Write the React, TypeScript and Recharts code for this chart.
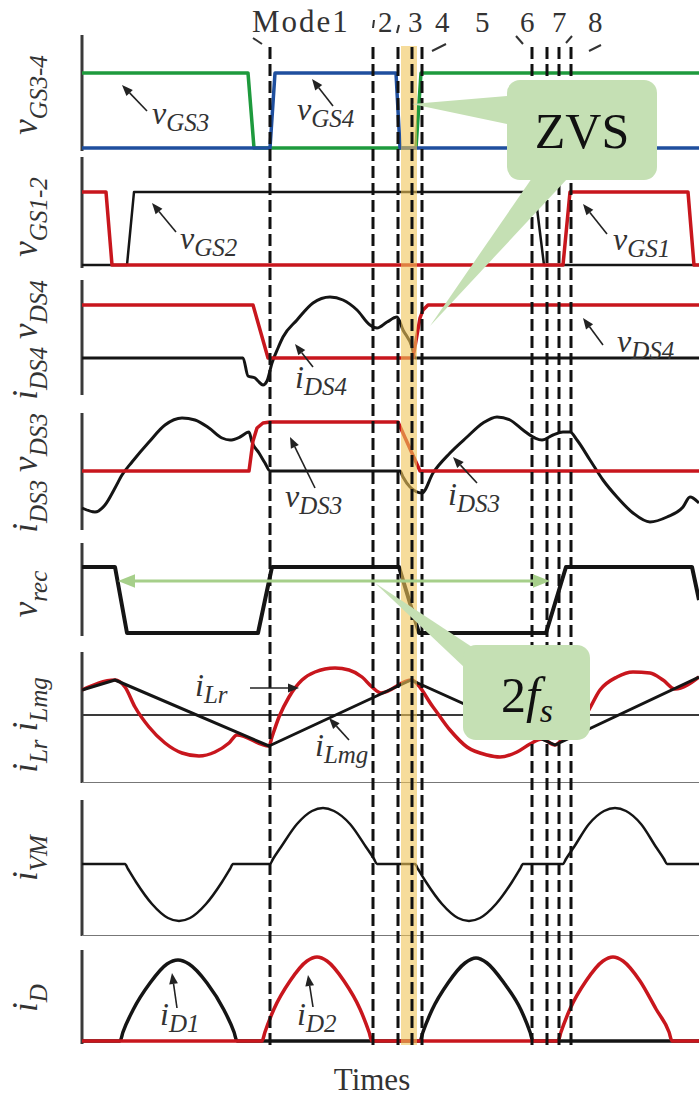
import React from 'react';
import { LineChart, Line, XAxis, YAxis, ReferenceLine, ReferenceArea } from 'recharts';

type Pt = { t: number; v: number };
const pts = (a: number[][]): Pt[] => a.map(([t, v]) => ({ t, v }));

// time runs 0..617 (arbitrary units), amplitudes are per-panel arbitrary units
const modeTimes = [188, 291, 316, 330, 340, 450, 465, 477, 489];
const modeLabels = ['Mode1', '2', '3', '4', '5', '6', '7', '8'];
const zvsWindow = [319, 335];

const vGS3 = pts([[0, 75], [166, 75], [172, 0], [334, 0], [339, 75], [617, 75]]);
const vGS4 = pts([[0, 0], [188, 0], [193, 75], [314, 75], [318, 0], [617, 0]]);
const vGS1 = pts([[0, 73], [24, 73], [30, 0], [481, 0], [488, 73], [606, 73], [612, 0], [617, 0]]);
const vGS2 = pts([[0, 0], [45, 0], [52, 73], [453, 73], [462, 0], [617, 0]]);
const vDS4 = pts([[0, 53], [171, 53], [186, 0], [331, 0], [338, 40], [341, 48], [346, 53], [617, 53]]);
const iDS4 = pts([
  [0, 0], [161, 0], [166, -18], [173, -20], [176, -23], [181, -27], [185, -23], [190, -5], [196, 10],
  [201, 21], [215, 38], [231, 55], [248, 61], [261, 58], [275, 48], [288, 33], [295, 30], [305, 36],
  [315, 41], [321, 28], [330, 11], [333, 0], [617, 0],
]);
const vDS3 = pts([[0, 0], [167, 0], [171, 30], [175, 43], [181, 48], [188, 49], [316, 49], [338, 0], [617, 0]]);
const iDS3 = pts([
  [0, -37], [13, -41], [23, -34], [33, -17], [40, -4], [50, 9], [67, 29], [83, 46], [100, 53], [113, 51],
  [127, 43], [140, 33], [148, 31], [158, 34], [167, 39], [170, 29], [177, 18], [183, 8], [188, 0],
  [318, 0], [321, -6], [328, -16], [340, -22], [351, -2], [368, 18], [385, 34], [401, 48], [415, 54],
  [428, 51], [441, 41], [453, 33], [460, 31], [471, 36], [481, 39], [488, 39], [495, 31], [508, 11],
  [521, -9], [535, -26], [551, -42], [568, -51], [585, -46], [601, -36], [608, -26], [617, -32],
]);
const vRec = pts([[0, 66], [33, 66], [45, 0], [176, 0], [190, 66], [317, 66], [337, 0], [464, 0], [484, 66], [610, 66], [617, 33]]);
const iLmg = pts([[0, 25], [33, 35], [187, -31], [329, 35], [473, -30], [617, 38]]);
const iLr = pts([
  [0, 25], [33, 35], [43, 28], [53, 8], [67, -12], [83, -28], [100, -38], [117, -41], [133, -37], [147, -28],
  [155, -20], [187, -31], [190, -22], [197, -2], [207, 18], [220, 35], [233, 43], [253, 47], [267, 45],
  [280, 38], [290, 28], [299, 22], [329, 35], [351, 8], [368, -15], [385, -32], [405, -40], [418, -42],
  [435, -37], [448, -29], [460, -24], [473, -30], [485, -18], [505, 2], [518, 25], [535, 38], [551, 43],
  [568, 42], [581, 35], [593, 26], [617, 38],
]);
const iVM = pts([
  [0, 0], [43, 0], [46, -5], [54, -18], [70, -40], [86, -54], [97, -57], [108, -54], [124, -40], [140, -18],
  [148, -5], [151, 0], [188, 0], [191, 5], [199, 17], [215, 40], [230, 53], [241, 56], [252, 53], [268, 40],
  [284, 17], [292, 5], [295, 0], [333, 0], [336, -5], [344, -18], [360, -40], [376, -54], [387, -57],
  [398, -54], [414, -40], [430, -18], [438, -5], [441, 0], [481, 0], [484, 5], [492, 17], [507, 40],
  [522, 53], [533, 56], [544, 53], [559, 40], [574, 17], [582, 5], [585, 0], [617, 0],
]);
const iD1 = pts([
  [0, 0], [38, 0], [41, 9], [51, 31], [68, 58], [85, 77], [96, 81], [107, 77], [125, 58], [142, 31],
  [152, 9], [155, 0], [338, 0], [341, 9], [350, 31], [366, 58], [383, 78], [394, 83], [405, 78],
  [422, 58], [439, 31], [448, 9], [451, 0], [617, 0],
]);
const iD2 = pts([
  [0, 0], [180, 0], [183, 9], [192, 32], [208, 60], [225, 80], [235, 84], [245, 80], [262, 60], [278, 32],
  [287, 9], [290, 0], [476, 0], [479, 9], [488, 32], [504, 60], [521, 80], [531, 84], [541, 80],
  [558, 60], [574, 32], [587, 9], [590, 0], [617, 0],
]);

const FONT = '"Liberation Serif", "Times New Roman", Times, serif';
const RED = '#c8161d';
const BLK = '#151515';
const AXIS = '#3a3a3a';
const GREEN_FILL = '#c5e0b4';

type S = { data: Pt[]; color: string; w: number; type: 'linear' | 'monotone' };
type Panel = { top: number; height: number; domain: [number, number]; series: S[]; rules?: { y: number; color: string; w: number }[] };

const panels: Panel[] = [
  { top: 35, height: 116, domain: [-3, 113], series: [
    { data: vGS3, color: '#1e9a3d', w: 3.5, type: 'linear' },
    { data: vGS4, color: '#1f4f9e', w: 3.5, type: 'linear' },
  ] },
  { top: 157, height: 111, domain: [-3, 108], series: [
    { data: vGS2, color: BLK, w: 2.5, type: 'linear' },
    { data: vGS1, color: RED, w: 3.5, type: 'linear' },
  ] },
  { top: 280, height: 115, domain: [-37, 78], series: [
    { data: iDS4, color: BLK, w: 3, type: 'monotone' },
    { data: vDS4, color: RED, w: 3.5, type: 'linear' },
  ] },
  { top: 413, height: 117, domain: [-59, 58], series: [
    { data: iDS3, color: BLK, w: 3, type: 'monotone' },
    { data: vDS3, color: RED, w: 3.5, type: 'linear' },
  ] },
  { top: 543, height: 93, domain: [-3, 90], series: [
    { data: vRec, color: BLK, w: 4, type: 'linear' },
  ] },
  { top: 652, height: 131, domain: [-68, 63], series: [
    { data: iLr, color: RED, w: 3.5, type: 'monotone' },
    { data: iLmg, color: BLK, w: 3, type: 'linear' },
  ], rules: [{ y: 0, color: AXIS, w: 2 }, { y: -68, color: '#777', w: 2 }] },
  { top: 800, height: 136, domain: [-72, 64], series: [
    { data: iVM, color: BLK, w: 2.5, type: 'monotone' },
  ], rules: [{ y: -72, color: '#777', w: 2 }] },
  { top: 950, height: 94, domain: [-3, 91], series: [
    { data: iD1, color: BLK, w: 3.5, type: 'monotone' },
    { data: iD2, color: RED, w: 3.5, type: 'monotone' },
  ] },
];

const MARGIN = { top: 0, right: 0, bottom: 0, left: 82 };
const modeData = modeTimes.map((t) => ({ t, v: 0.5 }));

const PanelChart = ({ p }: { p: Panel }) => (
  <div style={{ position: 'absolute', left: 0, top: p.top }}>
    <LineChart width={699} height={p.height} margin={MARGIN}>
      <XAxis type="number" dataKey="t" domain={[0, 617]} hide />
      <YAxis type="number" domain={p.domain} hide />
      <ReferenceLine x={0} stroke={AXIS} strokeWidth={3} />
      {(p.rules || []).map((r, i) => (
        <ReferenceLine key={i} y={r.y} stroke={r.color} strokeWidth={r.w} />
      ))}
      {p.series.map((s, i) => (
        <Line key={i} data={s.data} dataKey="v" type={s.type} stroke={s.color} strokeWidth={s.w}
          dot={false} isAnimationActive={false} strokeLinejoin="round" />
      ))}
    </LineChart>
  </div>
);

const Arrow = ({ x1, y1, x2, y2, color = '#222', w = 1.6, head = 11 }: any) => {
  const a = Math.atan2(y2 - y1, x2 - x1);
  const hx = x2 - head * Math.cos(a);
  const hy = y2 - head * Math.sin(a);
  const px = head * 0.4 * Math.sin(a);
  const py = -head * 0.4 * Math.cos(a);
  return (
    <g>
      <line x1={x1} y1={y1} x2={hx} y2={hy} stroke={color} strokeWidth={w} />
      <polygon points={`${x2},${y2} ${hx + px},${hy + py} ${hx - px},${hy - py}`} fill={color} />
    </g>
  );
};

const waveLabels = [
  { x: 152, y: 124, m: 'v', s: 'GS3', a: [147, 111, 122, 85] },
  { x: 297, y: 120, m: 'v', s: 'GS4', a: [333, 106, 312, 79] },
  { x: 180, y: 249, m: 'v', s: 'GS2', a: [176, 232, 152, 203] },
  { x: 613, y: 250, m: 'v', s: 'GS1', a: [607, 234, 583, 204] },
  { x: 295, y: 388, m: 'i', s: 'DS4', a: [313, 367, 295, 344] },
  { x: 617, y: 352, m: 'v', s: 'DS4', a: [603, 345, 583, 318] },
  { x: 285, y: 507, m: 'v', s: 'DS3', a: [315, 488, 290, 437] },
  { x: 448, y: 505, m: 'i', s: 'DS3', a: [477, 483, 453, 457] },
  { x: 195, y: 696, m: 'i', s: 'Lr', a: [250, 688, 299, 688] },
  { x: 315, y: 756, m: 'i', s: 'Lmg', a: [349, 740, 329, 718] },
  { x: 160, y: 1025, m: 'i', s: 'D1', a: [177, 1008, 172, 973] },
  { x: 297, y: 1025, m: 'i', s: 'D2', a: [313, 1007, 308, 975] },
];

const axisLabels = [
  { y: 95, parts: [['v', 'GS3-4']] },
  { y: 217, parts: [['v', 'GS1-2']] },
  { y: 340, parts: [['i', 'DS4'], ['v', 'DS4']] },
  { y: 473, parts: [['i', 'DS3'], ['v', 'DS3']] },
  { y: 594, parts: [['v', 'rec']] },
  { y: 725, parts: [['i', 'Lr'], ['i', 'Lmg']] },
  { y: 858, parts: [['i', 'VM']] },
  { y: 998, parts: [['i', 'D']] },
];

const modeLabelX = [252, 378, 408, 435, 475, 520, 552, 588];
const leaders = [
  [253, 38, 262, 44], [374, 20, 373, 28], [399, 25, 397, 33], [432, 51, 446, 44],
  [516, 36, 523, 44], [566, 43, 572, 36], [589, 51, 601, 45],
];

const Annotations = () => (
  <svg width={699} height={1099} style={{ position: 'absolute', left: 0, top: 0, fontFamily: FONT }}>
    {modeLabels.map((m, i) => (
      <text key={m} x={modeLabelX[i]} y={32} style={{ fontFamily: FONT }} fontSize={i === 0 ? 31 : 29}
        letterSpacing={i === 0 ? 2 : 0} fill="#333">{m}</text>
    ))}
    {leaders.map((l, i) => (
      <line key={i} x1={l[0]} y1={l[1]} x2={l[2]} y2={l[3]} stroke="#333" strokeWidth={2} />
    ))}
    {axisLabels.map((l, k) => (
      <text key={k} transform={`translate(37,${l.y}) rotate(-90)`} textAnchor="middle"
        style={{ fontFamily: FONT }} fontStyle="italic" fill="#333">
        {l.parts.map(([m, s], i) => [
          <tspan key={'m' + i} fontSize={35} dx={i === 0 ? 0 : 8} dy={i === 0 ? 0 : -10}>{m}</tspan>,
          <tspan key={'s' + i} fontSize={25} dy={10}>{s}</tspan>,
        ])}
      </text>
    ))}
    {waveLabels.map((l, k) => (
      <g key={k}>
        <text x={l.x} y={l.y} style={{ fontFamily: FONT }} fontStyle="italic" fill="#333">
          <tspan fontSize={32}>{l.m}</tspan>
          <tspan fontSize={25} dy={7}>{l.s}</tspan>
        </text>
        <Arrow x1={l.a[0]} y1={l.a[1]} x2={l.a[2]} y2={l.a[3]} />
      </g>
    ))}
    <Arrow x1={334} y1={581} x2={118} y2={581} color="#a6cf8a" w={3} head={17} />
    <Arrow x1={334} y1={581} x2={550} y2={581} color="#a6cf8a" w={3} head={17} />
    <polygon points="507,96 507,124 412,104" fill={GREEN_FILL} />
    <polygon points="532,178 568,178 430,326" fill={GREEN_FILL} />
    <rect x={507} y={80} width={150} height={100} rx={13} fill={GREEN_FILL} />
    <text x={582} y={148} textAnchor="middle" style={{ fontFamily: FONT }} fontSize={50} fill="#111">ZVS</text>
    <polygon points="375,583 472,647 465,668" fill={GREEN_FILL} />
    <rect x={463} y={645} width={127} height={95} rx={13} fill={GREEN_FILL} />
    <text x={527} y={712} textAnchor="middle" style={{ fontFamily: FONT }} fill="#111">
      <tspan fontSize={50}>2</tspan>
      <tspan fontSize={50} fontStyle="italic">f</tspan>
      <tspan fontSize={34} fontStyle="italic" dy={10}>s</tspan>
    </text>
    <text x={372} y={1090} textAnchor="middle" style={{ fontFamily: FONT }} fontSize={31} fill="#333">Times</text>
  </svg>
);

export default function App() {
  return (
    <div style={{ position: 'absolute', left: 0, top: 0, width: 699, height: 1099, background: '#fff', overflow: 'hidden' }}>
      {panels.map((p, i) => <PanelChart key={i} p={p} />)}
      <div style={{ position: 'absolute', left: 0, top: 46 }}>
        <LineChart width={699} height={999} margin={MARGIN} data={modeData}>
          <XAxis type="number" dataKey="t" domain={[0, 617]} hide />
          <YAxis type="number" domain={[0, 1]} hide />
          <Line dataKey="v" stroke="none" dot={false} isAnimationActive={false} />
          {modeTimes.map((t) => (
            <ReferenceLine key={t} x={t} stroke="#111" strokeWidth={3} strokeDasharray="12 5" />
          ))}
          <ReferenceArea x1={zvsWindow[0]} x2={zvsWindow[1]} fill="#f0c458" fillOpacity={0.6} stroke="none" />
        </LineChart>
      </div>
      <Annotations />
    </div>
  );
}
